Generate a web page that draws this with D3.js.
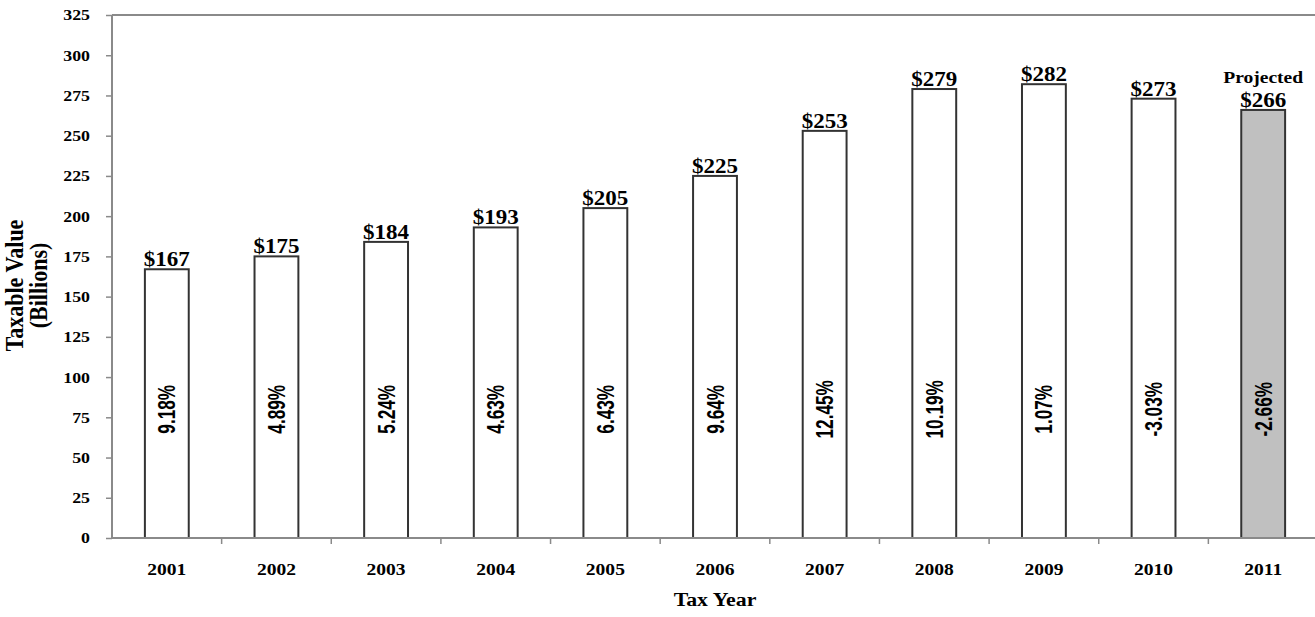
<!DOCTYPE html>
<html>
<head>
<meta charset="utf-8">
<script src="https://cdn.jsdelivr.net/npm/d3@7"></script>
<style>
  html, body { margin: 0; padding: 0; background: #fff; }
  svg { display: block; }
</style>
</head>
<body>
<script>
const years = ['2001', '2002', '2003', '2004', '2005', '2006', '2007', '2008', '2009', '2010', '2011']
const values = [167, 175, 184, 193, 205, 225, 253, 279, 282, 273, 266]
const changes = ['9.18%', '4.89%', '5.24%', '4.63%', '6.43%', '9.64%', '12.45%', '10.19%', '1.07%', '-3.03%', '-2.66%']
const yTicks = [0, 25, 50, 75, 100, 125, 150, 175, 200, 225, 250, 275, 300, 325]
const projectedYear = '2011'
const pctLabelAt = 80

const container = { width: 1315, height: 617 }
const margin = { top: 15, right: -3, bottom: 79, left: 112 }
const chartWidth = container.width - margin.left - margin.right,
      chartHeight = container.height - margin.top - margin.bottom

// the original picture is a little wider than tall in its text, so stretch text a bit
const stretch = 1.15
const serif = '"Liberation Serif", "Times New Roman", serif'
const sans = '"Liberation Sans", Arial, sans-serif'

const svg = d3.select('body').append('svg')
    .attr('width', container.width)
    .attr('height', container.height)

const chart = svg.append('g')
    .attr('transform', `translate(${margin.left},${margin.top})`)

// x
const x = d3.scaleBand()
    .domain(years)
    .range([0, chartWidth])
    .paddingInner(0.6)
    .paddingOuter(0.3)

// y
const y = d3.scaleLinear()
    .domain([0, 325])
    .range([chartHeight, 0])

// top border of plot area
chart.append('line')
    .attr('x1', 0).attr('x2', chartWidth)
    .attr('y1', 0).attr('y2', 0)
    .attr('stroke', '#8a8a8a')
    .attr('stroke-width', 2)

// y axis
const yAxis = chart.append('g')
    .call(d3.axisLeft(y).tickValues(yTicks).tickSize(6))
yAxis.select('.domain').attr('stroke', '#8a8a8a').attr('stroke-width', 2)
    .attr('d', `M0,${chartHeight + 1}V0`)
yAxis.selectAll('.tick line').attr('stroke', '#8a8a8a').attr('stroke-width', 1.5)
yAxis.selectAll('.tick text')
    .attr('x', 0)
    .attr('transform', `translate(-22,0) scale(${stretch},1)`)
    .attr('font-family', serif)
    .attr('font-weight', 'bold')
    .attr('font-size', 15.5)
    .attr('fill', '#000')

// bars
chart.selectAll('.bar')
    .data(years).enter()
    .append('rect')
    .attr('class', 'bar')
    .attr('x', d => x(d))
    .attr('y', (d, i) => y(values[i]))
    .attr('width', x.bandwidth())
    .attr('height', (d, i) => chartHeight - y(values[i]))
    .attr('fill', d => d === projectedYear ? '#c0c0c0' : '#fff')
    .attr('stroke', '#333')
    .attr('stroke-width', 2)

// x axis (drawn after bars so the baseline sits on top)
const xAxisG = chart.append('g')
    .attr('transform', `translate(0,${chartHeight})`)
xAxisG.append('line')
    .attr('x1', 0).attr('x2', chartWidth)
    .attr('stroke', '#8a8a8a')
    .attr('stroke-width', 2)
xAxisG.selectAll('.xtick')
    .data(years.slice(1)).enter()
    .append('line')
    .attr('class', 'xtick')
    .attr('x1', d => x(d) - x.step() * x.paddingInner() / 2)
    .attr('x2', d => x(d) - x.step() * x.paddingInner() / 2)
    .attr('y1', 0).attr('y2', 6)
    .attr('stroke', '#8a8a8a')
    .attr('stroke-width', 1.5)
xAxisG.selectAll('.xlabel')
    .data(years).enter()
    .append('text')
    .attr('class', 'xlabel')
    .attr('transform', d => `translate(${x(d) + x.bandwidth() / 2},37) scale(${stretch},1)`)
    .attr('text-anchor', 'middle')
    .attr('font-family', serif)
    .attr('font-weight', 'bold')
    .attr('font-size', 17)
    .text(d => d)

// value labels
chart.selectAll('.value')
    .data(years).enter()
    .append('text')
    .attr('class', 'value')
    .attr('transform', (d, i) => `translate(${x(d) + x.bandwidth() / 2},${y(values[i]) - 3}) scale(${stretch},1)`)
    .attr('text-anchor', 'middle')
    .attr('font-family', serif)
    .attr('font-weight', 'bold')
    .attr('font-size', 20)
    .text((d, i) => '$' + values[i])

chart.append('text')
    .attr('transform', `translate(${x(projectedYear) + x.bandwidth() / 2},${y(values[years.indexOf(projectedYear)]) - 27}) scale(${stretch},1)`)
    .attr('text-anchor', 'middle')
    .attr('font-family', serif)
    .attr('font-weight', 'bold')
    .attr('font-size', 17)
    .text('Projected')

// percent change labels (rotated, condensed)
chart.selectAll('.pct')
    .data(years).enter()
    .append('text')
    .attr('class', 'pct')
    .attr('transform', d => `translate(${x(d) + x.bandwidth() / 2 + 8.5},${y(pctLabelAt)}) rotate(-90) scale(0.82,${stretch})`)
    .attr('text-anchor', 'middle')
    .attr('font-family', sans)
    .attr('font-weight', 'bold')
    .attr('font-size', 21)
    .text((d, i) => changes[i])

// axis titles
const yTitle = svg.append('text')
    .attr('transform', `translate(23,${margin.top + chartHeight / 2 + 9}) rotate(-90) scale(1,${stretch})`)
    .attr('text-anchor', 'middle')
    .attr('font-family', serif)
    .attr('font-weight', 'bold')
    .attr('font-size', 22)
yTitle.append('tspan').attr('x', 0).attr('dy', 0).text('Taxable Value')
yTitle.append('tspan').attr('x', 0).attr('dy', 21).text('(Billions)')

svg.append('text')
    .attr('transform', `translate(${margin.left + chartWidth / 2},606) scale(${stretch},1)`)
    .attr('text-anchor', 'middle')
    .attr('font-family', serif)
    .attr('font-weight', 'bold')
    .attr('font-size', 19)
    .text('Tax Year')
</script>
</body>
</html>
